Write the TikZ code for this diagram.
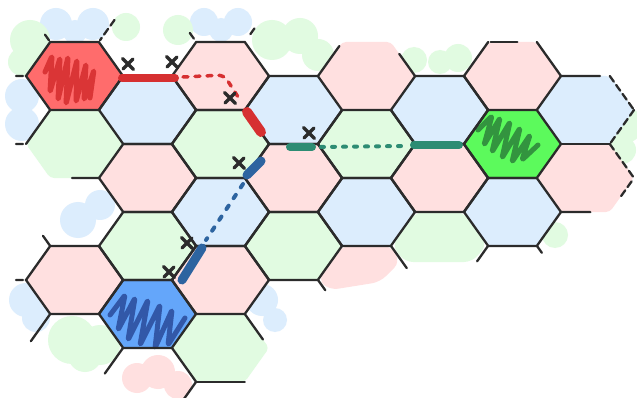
\documentclass[tikz,border=0pt]{standalone}
\usepackage{xcolor}
\usepackage{tikz}
\usetikzlibrary{calc}

\definecolor{hexpink}{RGB}{255,224,224}
\definecolor{hexblue}{RGB}{220,237,253}
\definecolor{hexgreen}{RGB}{225,251,225}
\definecolor{startred}{RGB}{255,108,108}
\definecolor{goalgreen}{RGB}{92,250,92}
\definecolor{startblue}{RGB}{100,166,250}
\definecolor{scribred}{RGB}{214,48,49}
\definecolor{scribgreen}{RGB}{47,138,60}
\definecolor{scribblue}{RGB}{45,80,160}
\definecolor{pathred}{RGB}{214,48,49}
\definecolor{pathteal}{RGB}{45,140,115}
\definecolor{pathblue}{RGB}{45,100,160}
\definecolor{ink}{RGB}{43,43,43}

\begin{document}
\begin{tikzpicture}[x=1pt,y=-1pt,
    grid/.style={line width=2.3pt,draw=ink,line cap=round},
    sketchy/.style={grid,dash pattern=on 7pt off 4pt},
    scribble/.style={line width=5pt,line cap=round,line join=round,rounded corners=2pt,opacity=0.9}]
    \fill[white] (0,0) rectangle (637,398);
    \useasboundingbox (0,0) rectangle (637,398);

    % soft blobs round the edge of the map
    \foreach \x/\y/\r in {56/24/16, 93/24/16, 75/32/12, 204/22/14, 238/22/14, 221/30/12, 22/96/17, 22/124/17, 78/220/18, 100/205/15, 26/300/17, 36/318/14, 262/300/16, 275/320/12}
        {\fill[hexblue] (\x,\y) circle (\r);}
    \foreach \x/\y/\r in {30/40/20, 22/62/14, 126/27/14, 178/30/15, 272/40/20, 300/36/18, 318/55/16, 414/60/13, 440/62/12, 458/58/14, 72/340/24, 100/345/20, 85/355/17, 555/235/13, 625/125/18, 622/150/14}
        {\fill[hexgreen] (\x,\y) circle (\r);}
    \foreach \x/\y/\r in {137/378/15, 158/372/17, 178/385/14}
        {\fill[hexpink] (\x,\y) circle (\r);}
    \fill[hexgreen,rounded corners=8pt] (416,212) -- (463,212) -- (487,245) -- (472,262) -- (405,262) -- (392,246) -- cycle;
    \fill[hexpink,rounded corners=8pt] (342,246) -- (391,246) -- (400,262) -- (380,282) -- (330,290) -- (318,280) -- cycle;

    % hex fills
    \foreach \q/\j/\col in {0/1/hexgreen, 0/3/hexpink, 1/0/hexblue, 1/1/hexpink, 1/2/hexgreen, 2/0/hexpink, 2/1/hexgreen, 2/2/hexblue, 2/3/hexpink, 2/4/hexgreen, 3/0/hexblue, 3/1/hexpink, 3/2/hexgreen, 4/0/hexpink, 4/1/hexgreen, 4/2/hexblue, 5/0/hexblue, 5/1/hexpink, 6/0/hexpink, 6/2/hexblue, 7/0/hexblue, 7/1/hexpink, 0/0/startred, 6/1/goalgreen, 1/3/startblue}{
        \pgfmathsetmacro\cx{74.5+73*\q}
        \pgfmathsetmacro\cy{76+68*\j+34*mod(abs(\q),2)}
        \fill[\col,rounded corners=4pt,shift={(\cx,\cy)}] (0:48.5 and 39.3) \foreach \a in {60,120,...,300}{-- (\a:48.5 and 39.3)} -- cycle;
    }

    % scribbles on start and goal
    \draw[scribble,scribred] (45,72) -- (52,56) -- (50,92) -- (60,58) -- (58,100) -- (68,57) -- (66,104) -- (77,60) -- (76,102) -- (86,64) -- (84,100) -- (94,70) -- (90,98);
    \draw[scribble,scribgreen] (478,130) -- (492,116) -- (484,145) -- (500,118) -- (492,152) -- (510,122) -- (502,158) -- (520,128) -- (512,162) -- (530,135) -- (522,160) -- (538,145);
    \draw[scribble,scribblue] (110,315) -- (125,295) -- (118,330) -- (135,298) -- (128,340) -- (148,300) -- (140,345) -- (160,305) -- (155,348) -- (172,310) -- (168,345) -- (185,318);

    % full hexes
    \foreach \q/\j in {0/0, 0/3, 1/0, 1/1, 1/2, 1/3, 2/0, 2/1, 2/2, 2/3, 3/0, 3/1, 3/2, 4/1, 4/2, 5/0, 5/1, 6/1, 6/2}{
        \pgfmathsetmacro\cx{74.5+73*\q}
        \pgfmathsetmacro\cy{76+68*\j+34*mod(abs(\q),2)}
        \draw[grid,shift={(\cx,\cy)}] (0:48.5 and 39.3) \foreach \a in {60,120,...,300}{-- (\a:48.5 and 39.3)} -- cycle;
    }
    % loose edges at the border
    \foreach \q/\j/\k/\s/\e/\sty in {0/1/3/0/1/grid, 0/1/1/0/0.55/grid, 0/2/2/0/0.3/grid, 0/4/3/0.2/1/grid, 0/4/0/0/0.75/grid, 1/4/0/0/0.5/grid, 2/4/1/0/1/grid, 2/4/2/0/1/grid, 2/4/5/0/0.75/grid, 4/3/2/0.7/1/grid, 4/0/3/0/0.88/grid, 4/0/5/0.35/1/grid, 5/2/2/0.35/1/grid, 5/2/0/0/0.45/grid, 7/2/2/0.8/1/grid, 6/0/0/0/1/grid, 6/0/2/0/1/grid, 6/0/3/0/1/grid, 6/0/5/0/1/grid, 6/0/4/0.05/0.6/grid, 7/0/4/0/0.8/grid, 7/1/4/0/1/grid, 7/1/1/0.4/1/grid, 0/-1/2/0.05/0.3/sketchy, 0/-1/0/0.35/0.95/sketchy, 2/-1/2/0.1/0.35/sketchy, 2/-1/0/0.6/0.8/sketchy, -1/0/4/0.8/1/sketchy, -1/1/4/0.8/1/sketchy, -1/3/4/0.8/1/sketchy, 7/0/5/0/1/sketchy, 7/0/0/0/1/sketchy, 7/1/5/0/1/sketchy, 7/1/0/0.1/0.6/sketchy}{
        \pgfmathsetmacro\cx{74.5+73*\q}
        \pgfmathsetmacro\cy{76+68*\j+34*mod(abs(\q),2)}
        \draw[\sty,shift={(\cx,\cy)}] ($(60*\k:48.5 and 39.3)!\s!(60*\k+60:48.5 and 39.3)$) -- ($(60*\k:48.5 and 39.3)!\e!(60*\k+60:48.5 and 39.3)$);
    }

    % the three paths
    \coordinate (r1) at (122,78); \coordinate (r2) at (175,78);
    \coordinate (r3) at (183,77); \coordinate (r4) at (224,75); \coordinate (r5) at (240,100);
    \coordinate (r6) at (247,112); \coordinate (r7) at (261,132);
    \draw[pathred,line width=8pt,line cap=round] (r1) -- (r2);
    \draw[pathred,line width=3.5pt,line cap=round,dash pattern=on 5pt off 7pt,rounded corners=6pt] (r3) -- (r4) -- (r5);
    \draw[pathred,line width=10pt,line cap=round] (r6) -- (r7);

    \coordinate (t1) at (290,147); \coordinate (t2) at (312,147);
    \coordinate (t3) at (321,147); \coordinate (t4) at (404,146);
    \coordinate (t5) at (414,145); \coordinate (t6) at (459,145);
    \draw[pathteal,line width=8pt,line cap=round] (t1) -- (t2);
    \draw[pathteal,line width=4pt,line cap=round,dash pattern=on 3pt off 8pt] (t3) -- (t4);
    \draw[pathteal,line width=8pt,line cap=round] (t5) -- (t6);

    \coordinate (b1) at (261,161); \coordinate (b2) at (247,175);
    \coordinate (b3) at (243,184); \coordinate (b4) at (206,240);
    \coordinate (b5) at (202,248); \coordinate (b6) at (182,280);
    \draw[pathblue,line width=9pt,line cap=round] (b1) -- (b2);
    \draw[pathblue,line width=4pt,line cap=round,dash pattern=on 4pt off 9pt] (b3) -- (b4);
    \draw[pathblue,line width=9pt,line cap=round] (b5) -- (b6);

    % crosses
    \foreach \x/\y in {128/64, 172/62, 230/98, 309/133, 239/163, 187/243, 169/272}
        {\draw[ink,line width=3.2pt,line cap=round,shift={(\x,\y)}] (-5.5,-5.5) -- (5.5,5.5) (-5,5) -- (5,-5);}
\end{tikzpicture}
\end{document}
